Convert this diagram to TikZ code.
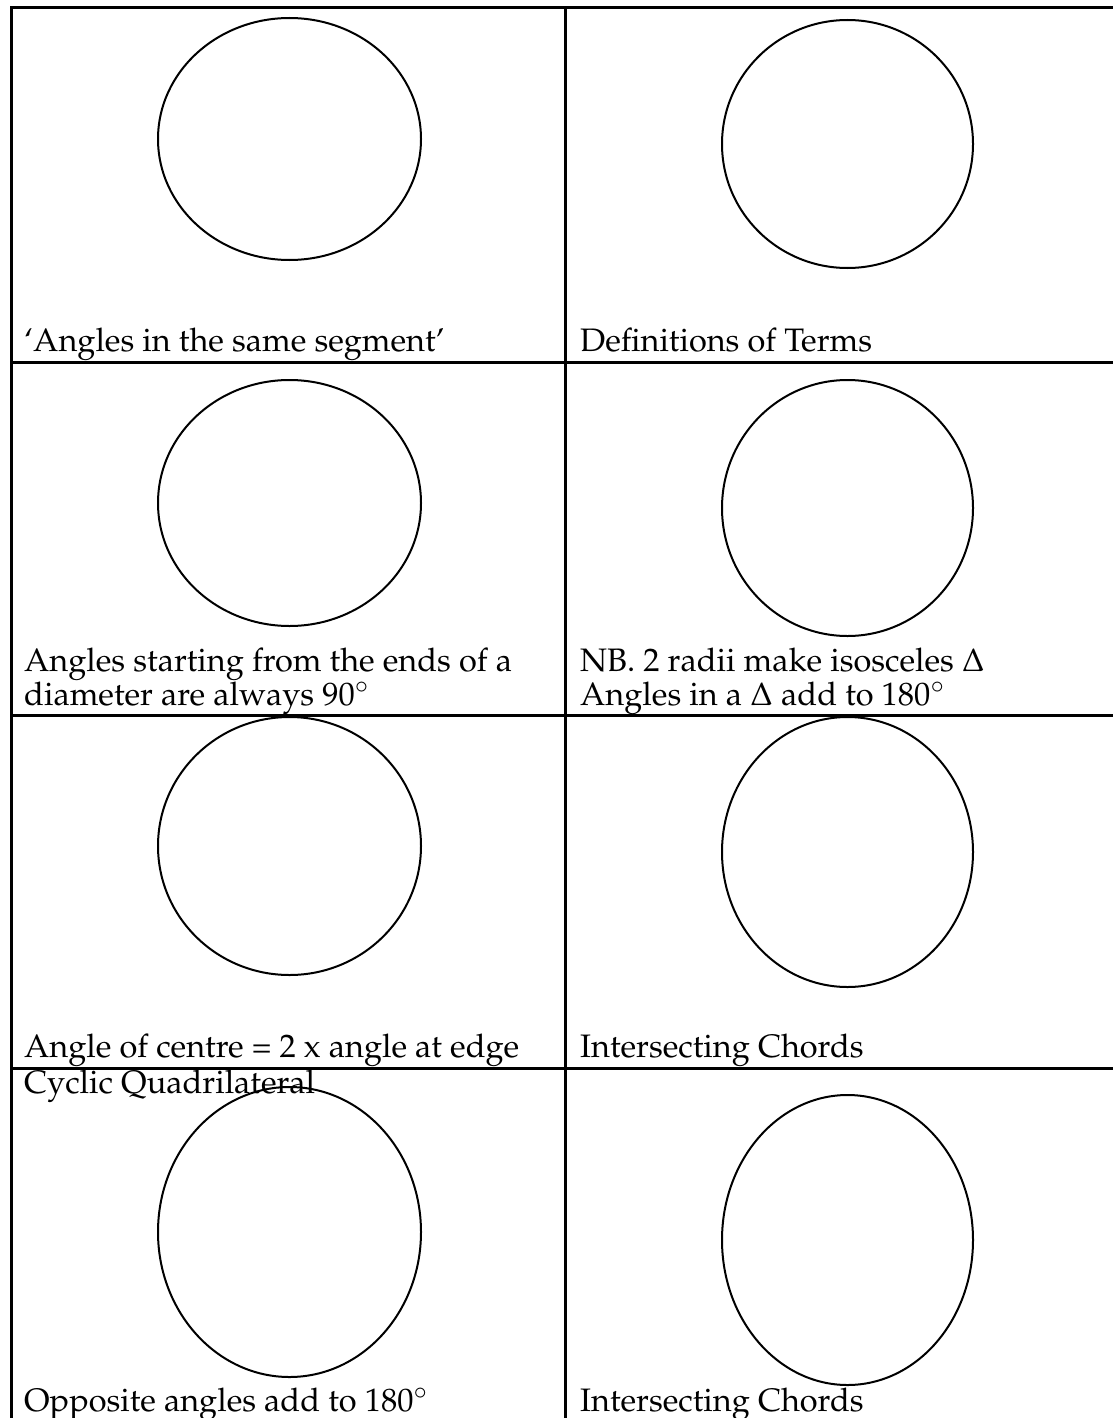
\documentclass[tikz,border=0pt]{standalone}
\usepackage[T1]{fontenc}
\usepackage{mathpazo}
\begin{document}
\begin{tikzpicture}[x=1pt,y=-1pt,
  grid/.style={line width=3pt},
  ring/.style={line width=2pt},
  lbl/.style={anchor=base west,inner sep=0pt,align=left,font=\fontsize{32.5}{33.5}\selectfont}]
\useasboundingbox (0,0) rectangle (1112,1418);
\fill[white] (0,0) rectangle (1112,1418);
% table rules
\draw[grid] (11,8) -- (1114,8);
\draw[grid] (11,6.5) -- (11,1420);
\draw[grid] (565,8) -- (565,1420);
\draw[grid] (11,362) -- (1114,362);
\draw[grid] (11,715) -- (1114,715);
\draw[grid] (11,1068) -- (1114,1068);
% circles
\draw[ring] (289.5,139) ellipse [x radius=131.5, y radius=121];
\draw[ring] (847.5,144) ellipse [x radius=125.5, y radius=124];
\draw[ring] (289.5,503) ellipse [x radius=131.5, y radius=123];
\draw[ring] (847.5,508) ellipse [x radius=125.5, y radius=128];
\draw[ring] (289.5,846) ellipse [x radius=131.5, y radius=129];
\draw[ring] (847.5,852) ellipse [x radius=125.5, y radius=135];
\draw[ring] (289.5,1232) ellipse [x radius=131.5, y radius=145];
\draw[ring] (847.5,1240) ellipse [x radius=125.5, y radius=145];
% labels
\node[lbl] (t1) at (24,351) {`Angles in the same segment'};
\node[lbl] (t2) at (580,351) {Definitions of Terms};
\node[lbl] (t3) at (24,705) {Angles starting from the ends of a\\diameter are always 90$^\circ$};
\node[lbl] (t5) at (580,705) {NB. 2 radii make isosceles $\Delta$\\Angles in a $\Delta$ add to 180$^\circ$};
\node[lbl] (t7) at (24,1057) {Angle of centre = 2 x angle at edge};
\node[lbl] (t8) at (580,1057) {Intersecting Chords};
\node[lbl] (t9) at (24,1093) {Cyclic Quadrilateral};
\node[lbl] (t10) at (24,1411) {Opposite angles add to 180$^\circ$};
\node[lbl] (t11) at (580,1411) {Intersecting Chords};
\end{tikzpicture}
\end{document}
